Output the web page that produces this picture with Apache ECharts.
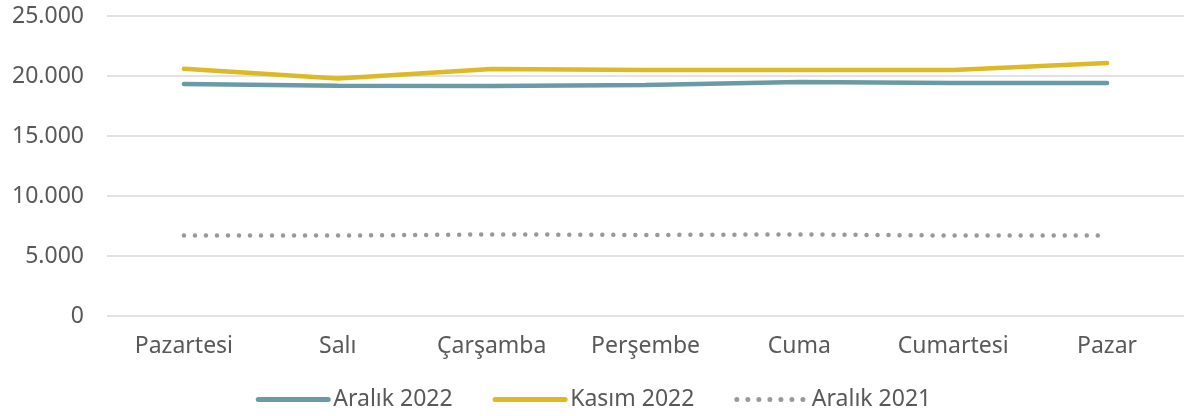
<!DOCTYPE html>
<html>
<head>
<meta charset="utf-8">
<script src="https://cdn.jsdelivr.net/npm/echarts@6/dist/echarts.min.js"></script>
<style>
	html,body{margin:0;padding:0;background:#fff;}
	#chart{width:1187px;height:416px;}
</style>
</head>
<body>
<div id="chart"></div>
<script>
var days=['Pazartesi','Salı','Çarşamba','Perşembe','Cuma','Cumartesi','Pazar'];
var aralik2022=[19330,19180,19170,19250,19500,19420,19420];
var kasim2022=[20600,19800,20580,20500,20500,20500,21080];
var aralik2021=[6700,6700,6800,6750,6800,6700,6700];
var yTicks=[0,5000,10000,15000,20000,25000];

var fontName='"Noto Sans", Lato, sans-serif';
var textColor='#595959';

function fmt(v){
	// turkish thousands separator
	return String(v).replace(/\B(?=(\d{3})+(?!\d))/g,'.');
}

var myChart=echarts.init(document.getElementById('chart'));
var option={
	animation:false,
	textStyle:{fontFamily:fontName},
	grid:{left:107,right:3,top:16,bottom:100},
	legend:{
		bottom:0,
		left:'center',
		itemWidth:70,
		itemHeight:14,
		itemGap:40,
		itemStyle:{opacity:0},
		lineStyle:{width:5},
		textStyle:{fontSize:23,color:textColor,fontFamily:fontName},
		data:['Aralık 2022','Kasım 2022','Aralık 2021']
	},
	xAxis:{
		type:'category',
		data:days,
		boundaryGap:true,
		axisLine:{show:false},
		axisTick:{show:false},
		axisLabel:{fontSize:23,color:textColor,margin:19,fontFamily:fontName}
	},
	yAxis:{
		type:'value',
		min:yTicks[0],
		max:yTicks[yTicks.length-1],
		interval:5000,
		axisLine:{show:false},
		axisTick:{show:false},
		splitLine:{lineStyle:{color:'#d9d9d9',width:1.5}},
		axisLabel:{fontSize:23,color:textColor,margin:23,formatter:fmt,fontFamily:fontName}
	},
	series:[
		{
			name:'Aralık 2022',
			type:'line',
			data:aralik2022,
			symbol:'none',
			lineStyle:{color:'#6a9aa5',width:4.5,cap:'round'},
			itemStyle:{color:'#6a9aa5'}
		},
		{
			name:'Kasım 2022',
			type:'line',
			data:kasim2022,
			symbol:'none',
			lineStyle:{color:'#ddb925',width:4.5,cap:'round'},
			itemStyle:{color:'#ddb925'}
		},
		{
			name:'Aralık 2021',
			type:'line',
			data:aralik2021,
			symbol:'none',
			lineStyle:{color:'#999999',width:4.5,type:[0.01,11],cap:'round'},
			itemStyle:{color:'#999999'}
		}
	]
};
myChart.setOption(option);
</script>
</body>
</html>
